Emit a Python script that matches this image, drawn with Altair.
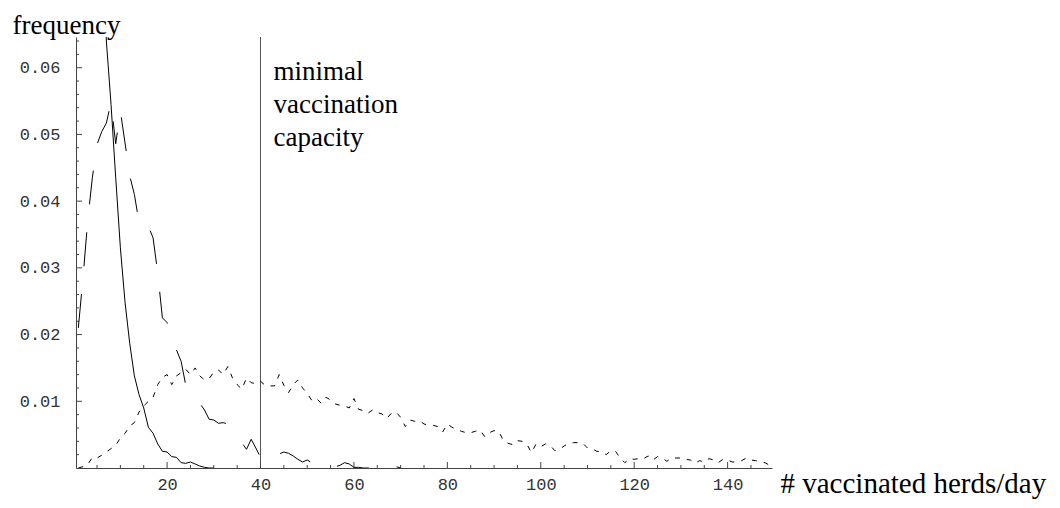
import altair as alt
import pandas as pd

# ---------------- data ----------------
# solid curve, x = 1 .. 30 (values above the top of the plot are clipped)
solid_y = [0.19, 0.16, 0.135, 0.115, 0.098, 0.080, 0.064, 0.0545, 0.0435, 0.0330,
           0.0248, 0.0187, 0.0138, 0.0110, 0.0090, 0.0061, 0.0052, 0.0036, 0.0025, 0.0024,
           0.0017, 0.0016, 0.0008, 0.0007, 0.0009, 0.0006, 0.0003, 0.0001, 0.0, 0.0]

# long-dashed curve, x = 1 .. 70
long_y = [0.021, 0.0285, 0.0370, 0.0435, 0.0485, 0.0504, 0.0517, 0.0548, 0.0486, 0.0535,
          0.0487, 0.0438, 0.0410, 0.0368, 0.0371, 0.0362, 0.0345, 0.0292, 0.0225, 0.0218,
          0.0195, 0.0177, 0.0160, 0.0124, 0.0116, 0.0107, 0.0097, 0.0087, 0.0073, 0.0072,
          0.0067, 0.0068, 0.0066, 0.0058, 0.0050, 0.0038, 0.0028, 0.0043, 0.0030, 0.0016,
          0.0026, 0.0022, 0.0025, 0.0021, 0.0024, 0.0022, 0.0018, 0.0013, 0.0009, 0.0012,
          0.0008, 0.0005, 0.0007, 0.0005, 0.0003, 0.0002, 0.0004, 0.0008, 0.0006, 0.0001,
          0.0001, 0.0, 0.0, 0.0, 0.0, 0.0, 0.0, 0.0, 0.0002, 0.0]

# short-dashed curve, x = 1 .. 150
short_y = [0.0000, 0.0002, 0.0005, 0.0016, 0.0015, 0.0019, 0.0024, 0.0029, 0.0034, 0.0045,
           0.0052, 0.0063, 0.0068, 0.0084, 0.0093, 0.0100, 0.0106, 0.0125, 0.0136, 0.0140,
           0.0125, 0.0138, 0.0143, 0.0148, 0.0140, 0.0150, 0.0138, 0.0132, 0.0134, 0.0144,
           0.0147, 0.0140, 0.0152, 0.0135, 0.0125, 0.0118, 0.0135, 0.0128, 0.0126, 0.0130,
           0.0124, 0.0123, 0.0123, 0.0140, 0.0124, 0.0113, 0.0125, 0.0132, 0.0120, 0.0112,
           0.0101, 0.0104, 0.0097, 0.0106, 0.0102, 0.0096, 0.0094, 0.0093, 0.0090, 0.0104,
           0.0088, 0.0086, 0.0082, 0.0087, 0.0083, 0.0081, 0.0074, 0.0082, 0.0084, 0.0076,
           0.0062, 0.0072, 0.0070, 0.0071, 0.0066, 0.0064, 0.0064, 0.0062, 0.0054, 0.0066,
           0.0061, 0.0058, 0.0055, 0.0053, 0.0053, 0.0055, 0.0057, 0.0047, 0.0053, 0.0056,
           0.0055, 0.0041, 0.0037, 0.0035, 0.0041, 0.0040, 0.0036, 0.0023, 0.0036, 0.0032,
           0.0036, 0.0034, 0.0026, 0.0028, 0.0033, 0.0037, 0.0038, 0.0038, 0.0037, 0.0030,
           0.0029, 0.0025, 0.0024, 0.0020, 0.0026, 0.0025, 0.0015, 0.0008, 0.0014, 0.0013,
           0.0014, 0.0014, 0.0018, 0.0012, 0.0017, 0.0015, 0.0010, 0.0015, 0.0015, 0.0015,
           0.0013, 0.0012, 0.0007, 0.0011, 0.0009, 0.0014, 0.0012, 0.0008, 0.0013, 0.0012,
           0.0009, 0.0009, 0.0011, 0.0015, 0.0012, 0.0011, 0.0009, 0.0008, 0.0004, 0.0002]

x_major = [20, 40, 60, 80, 100, 120, 140]
x_minor = [v for v in range(5, 150, 5) if v % 20 != 0]
y_major = [0.01, 0.02, 0.03, 0.04, 0.05, 0.06]
y_minor = [round(0.002 * k, 3) for k in range(1, 33) if k % 5 != 0]

capacity_x = [40]
note_lines = ["minimal", "vaccination", "capacity"]

# ---------------- tables ----------------
rows = []
for name, vals in (("solid", solid_y), ("long", long_y), ("short", short_y)):
    for i, v in enumerate(vals):
        rows.append({"x": i + 1, "y": v, "series": name})
df = pd.DataFrame(rows)

xmaj = pd.DataFrame({"v": x_major})
xmin = pd.DataFrame({"v": x_minor})
ymaj = pd.DataFrame({"v": y_major})
ymin = pd.DataFrame({"v": y_minor})
cap = pd.DataFrame({"v": capacity_x})

W, H = 696, 431
AX = "#444444"

xs = alt.Scale(domain=[0.5, 149.5], nice=False, zero=False)
ys = alt.Scale(domain=[0, 0.0646], nice=False, zero=False)

xaxis = alt.Axis(values=x_major, format="d", ticks=False, tickSize=0, grid=False,
                 labelPadding=8, labelFont="Liberation Mono", labelFontSize=17,
                 labelColor="#333333", domainColor=AX, domainWidth=1,
                 title="# vaccinated herds/day", titleFont="Liberation Serif",
                 titleFontSize=29, titleFontWeight="normal", titleColor="black",
                 titleAlign="left", titleBaseline="alphabetic", titleX=704, titleY=24)
yaxis = alt.Axis(values=y_major, format=".2f", ticks=False, tickSize=0, grid=False,
                 labelPadding=16, labelFont="Liberation Mono", labelFontSize=17,
                 labelColor="#333333", domainColor=AX, domainWidth=1,
                 title="frequency", titleFont="Liberation Serif", titleFontSize=27,
                 titleFontWeight="normal", titleColor="black", titleAngle=0,
                 titleAlign="left", titleBaseline="alphabetic", titleX=-64, titleY=-4)

X = lambda f: alt.X(f, scale=xs, axis=xaxis)
Y = lambda f: alt.Y(f, scale=ys, axis=yaxis)

base = alt.Chart(df)
solid = base.transform_filter(alt.datum.series == "solid").mark_line(
    color="black", strokeWidth=1, clip=True).encode(x=X("x:Q"), y=Y("y:Q"), order="x:Q")
longd = base.transform_filter(alt.datum.series == "long").mark_line(
    color="black", strokeWidth=1, clip=True, strokeDash=[34, 28]).encode(
    x=X("x:Q"), y=Y("y:Q"), order="x:Q")
shortd = base.transform_filter(alt.datum.series == "short").mark_line(
    color="black", strokeWidth=1, clip=True, strokeDash=[5, 7]).encode(
    x=X("x:Q"), y=Y("y:Q"), order="x:Q")

vline = alt.Chart(cap).mark_rule(color="#555555", strokeWidth=1).encode(x=X("v:Q"))
note = alt.Chart(cap).mark_text(text=note_lines, align="left", baseline="alphabetic",
                                font="Liberation Serif", fontSize=27, lineHeight=33,
                                dx=13, color="black").encode(x=X("v:Q"), y=alt.value(43))

xt_major = alt.Chart(xmaj).mark_rule(color=AX, strokeWidth=1).encode(
    x=X("v:Q"), y=alt.value(H), y2=alt.value(H - 6))
xt_minor = alt.Chart(xmin).mark_rule(color=AX, strokeWidth=1).encode(
    x=X("v:Q"), y=alt.value(H), y2=alt.value(H - 3))
yt_major = alt.Chart(ymaj).mark_rule(color=AX, strokeWidth=1).encode(
    y=Y("v:Q"), x=alt.value(0), x2=alt.value(6))
yt_minor = alt.Chart(ymin).mark_rule(color=AX, strokeWidth=1).encode(
    y=Y("v:Q"), x=alt.value(0), x2=alt.value(3))

chart = alt.layer(vline, xt_major, xt_minor, yt_major, yt_minor, shortd, longd, solid, note).properties(
    width=W, height=H,
    autosize=alt.AutoSizeParams(type="none"),
    padding={"left": 68, "top": 29, "right": 280, "bottom": 32},
).configure_view(stroke=None)

chart.save("out.html", embed_options={"renderer": "svg", "actions": False})
